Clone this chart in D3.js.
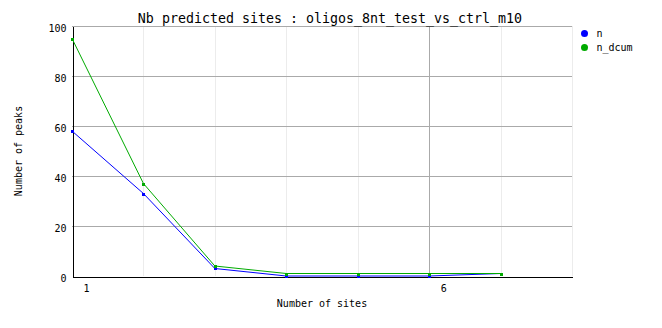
<!DOCTYPE html>
<html>
<head>
<meta charset="utf-8">
<script src="https://cdn.jsdelivr.net/npm/d3@7"></script>
<style>
  body { margin: 0; background: #fff; }
  text { font-family: "DejaVu Sans Mono", monospace; fill: #000; }
</style>
</head>
<body>
<div id="chart"></div>
<script>
// values
const sites = [1, 2, 3, 4, 5, 6, 7]
const n = [58, 33, 3, 0, 0, 0, 1]
const n_dcum = [95, 37, 4, 1, 1, 1, 1]
const yTicks = [0, 20, 40, 60, 80, 100]
const xTicks = [1, 6]
const xMinor = [2, 3, 4, 5, 7, 8]
const seriesNames = ["n", "n_dcum"]
const seriesColors = ["#0000ff", "#00aa00"]

const width = 662
const height = 328
const margin = {top: 26, right: 90, bottom: 52, left: 72}

const svg = d3.select("#chart")
    .append("svg")
    .attr("width", width)
    .attr("height", height)

const x = d3.scaleLinear()
    .domain([1, 8])
    .range([margin.left, width - margin.right])

const y = d3.scaleLinear()
    .domain([0, 100])
    .range([height - margin.bottom, margin.top])

const layer_grid = svg.append("g").attr("shape-rendering", "crispEdges")
const layer_axis = svg.append("g")
const layer_lines = svg.append("g")
const layer_legend = svg.append("g")

// light vertical grid
layer_grid.append("g")
    .selectAll("line")
    .data(xMinor)
    .join("line")
    .attr("x1", d => Math.round(x(d)) + 0.5)
    .attr("x2", d => Math.round(x(d)) + 0.5)
    .attr("y1", y(100))
    .attr("y2", y(0))
    .attr("stroke", "#ececec")

// major vertical grid
layer_grid.append("g")
    .selectAll("line")
    .data(xTicks.filter(d => d !== 1))
    .join("line")
    .attr("x1", d => Math.round(x(d)) + 0.5)
    .attr("x2", d => Math.round(x(d)) + 0.5)
    .attr("y1", y(100))
    .attr("y2", y(0))
    .attr("stroke", "#aaaaaa")

// horizontal grid
layer_grid.append("g")
    .selectAll("line")
    .data(yTicks.filter(d => d !== 0))
    .join("line")
    .attr("x1", x(1))
    .attr("x2", x(8))
    .attr("y1", d => Math.round(y(d)) + 0.5)
    .attr("y2", d => Math.round(y(d)) + 0.5)
    .attr("stroke", "#aaaaaa")

// y axis
layer_axis.append("g")
    .attr("transform", `translate(${x(1) + 0.5},0)`)
    .call(d3.axisLeft(y).tickValues(yTicks).tickSize(0).tickPadding(6))
    .call(g => g.select(".domain").attr("stroke", "#000").attr("shape-rendering", "crispEdges"))
    .call(g => g.selectAll(".tick text")
        .attr("dy", "0.55em")
        .attr("font-family", "DejaVu Sans Mono")
        .attr("font-size", 10)
        .attr("fill", "#000"))

// x axis
layer_axis.append("g")
    .attr("transform", `translate(0,${y(0) + 0.5})`)
    .call(d3.axisBottom(x).tickValues(xTicks).tickSize(0).tickPadding(8).tickFormat(d3.format("d")))
    .call(g => g.select(".domain").attr("stroke", "#000").attr("shape-rendering", "crispEdges"))
    .call(g => g.selectAll(".tick text")
        .attr("dx", 14)
        .attr("font-family", "DejaVu Sans Mono")
        .attr("font-size", 10)
        .attr("fill", "#000"))

// axis titles
svg.append("text")
    .attr("x", (x(1) + x(8)) / 2)
    .attr("y", 307)
    .attr("text-anchor", "middle")
    .attr("font-size", 10)
    .text("Number of sites")

svg.append("text")
    .attr("transform", `translate(22,${(y(0) + y(100)) / 2}) rotate(-90)`)
    .attr("text-anchor", "middle")
    .attr("font-size", 10)
    .text("Number of peaks")

// title
svg.append("text")
    .attr("x", (x(1) + x(8)) / 2 + 8)
    .attr("y", 23)
    .attr("text-anchor", "middle")
    .attr("font-size", 13.3)
    .text("Nb predicted sites : oligos_8nt_test_vs_ctrl_m10")

// series
const series = [n, n_dcum].map((vals, i) => ({
    name: seriesNames[i],
    color: seriesColors[i],
    values: sites.map((s, j) => ({s, v: vals[j]}))
}))

const line = d3.line()
    .x(d => x(d.s))
    .y(d => y(d.v))

const g_series = layer_lines.selectAll("g")
    .data(series)
    .join("g")

g_series.append("path")
    .attr("fill", "none")
    .attr("stroke", d => d.color)
    .attr("stroke-width", 1)
    .attr("d", d => line(d.values))

g_series.selectAll("rect")
    .data(d => d.values.map(p => ({...p, color: d.color})))
    .join("rect")
    .attr("x", d => Math.round(x(d.s)) - 1)
    .attr("y", d => Math.round(y(d.v)) - 1)
    .attr("width", 3)
    .attr("height", 3)
    .attr("fill", d => d.color)
    .attr("shape-rendering", "crispEdges")

// legend
const legend = layer_legend.selectAll("g")
    .data(series)
    .join("g")
    .attr("transform", (d, i) => `translate(584.5,${33.5 + i * 14})`)

legend.append("circle")
    .attr("r", 3.5)
    .attr("fill", d => d.color)

legend.append("text")
    .attr("x", 12)
    .attr("dy", "0.35em")
    .attr("font-size", 10)
    .text(d => d.name)
</script>
</body>
</html>
